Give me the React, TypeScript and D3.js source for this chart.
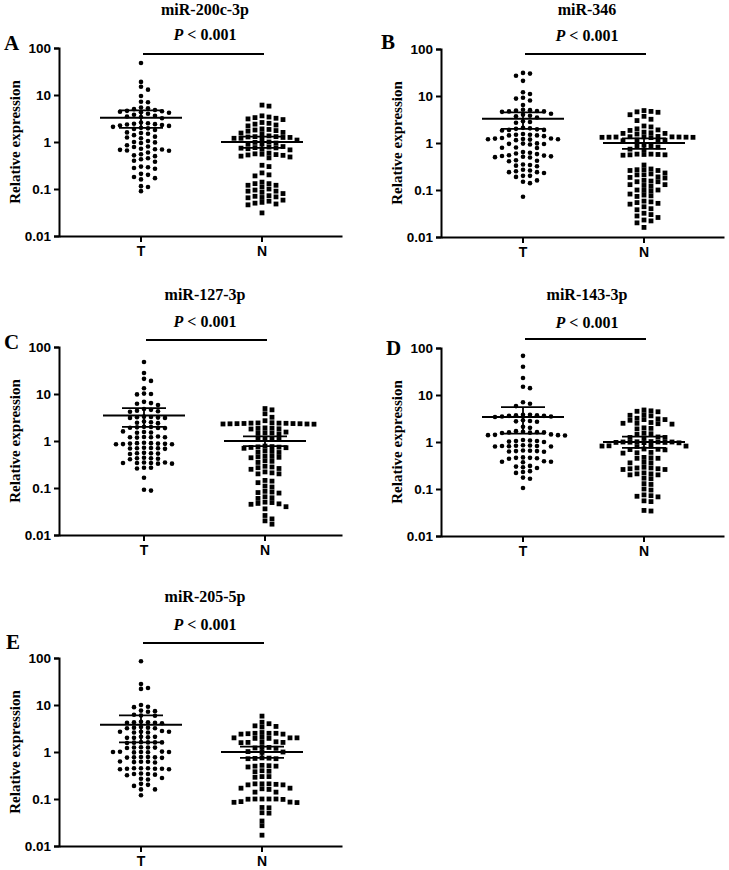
import React, { useEffect, useRef } from 'react';
import * as d3 from 'd3';

// panel labels and titles
const panelLetters = ["A", "B", "C", "D", "E"];
const mirNames = ["miR-200c-3p", "miR-346", "miR-127-3p", "miR-143-3p", "miR-205-5p"];
const groups = ["T", "N"];
const yTicks = [0.01, 0.1, 1, 10, 100];
const yTickLabels = ["0.01", "0.1", "1", "10", "100"];
const pLabel = "< 0.001";

// relative expression (T = tumour, N = normal)
const tumorA = [48, 19, 15, 13, 9.5, 7.2, 7.0, 5.4, 5.2, 5.0, 4.8, 4.6, 4.5, 4.4, 4.3, 4.2, 4.0, 3.8, 3.6, 3.5, 3.4, 3.2, 2.6, 2.5, 2.45, 2.4, 2.35, 2.3, 2.25, 2.2, 2.1, 2.0, 1.95, 1.9, 1.8, 1.6, 1.55, 1.5, 1.4, 1.3, 1.25, 1.2, 1.05, 1.0, 0.98, 0.95, 0.85, 0.8, 0.78, 0.72, 0.7, 0.69, 0.68, 0.66, 0.65, 0.6, 0.55, 0.52, 0.5, 0.45, 0.43, 0.4, 0.38, 0.3, 0.29, 0.28, 0.27, 0.21, 0.2, 0.18, 0.17, 0.16, 0.115, 0.11, 0.09];
const normalA = [6.1, 5.8, 3.6, 3.4, 3.3, 3.2, 3.1, 3.0, 2.6, 2.5, 2.4, 2.3, 2.2, 1.9, 1.85, 1.8, 1.75, 1.7, 1.6, 1.55, 1.5, 1.35, 1.3, 1.3, 1.28, 1.25, 1.25, 1.2, 1.2, 1.15, 1.1, 1.0, 0.98, 0.95, 0.92, 0.9, 0.8, 0.78, 0.76, 0.75, 0.74, 0.72, 0.7, 0.68, 0.58, 0.56, 0.55, 0.54, 0.53, 0.52, 0.5, 0.48, 0.46, 0.32, 0.3, 0.22, 0.2, 0.19, 0.14, 0.13, 0.13, 0.12, 0.12, 0.11, 0.1, 0.095, 0.09, 0.09, 0.085, 0.08, 0.072, 0.07, 0.068, 0.066, 0.065, 0.058, 0.055, 0.052, 0.05, 0.048, 0.046, 0.031];
const tumorB = [31, 30, 27, 21, 12, 11, 9.2, 8.8, 8, 6.4, 5.1, 5.0, 4.9, 4.8, 4.7, 4.7, 4.6, 4.2, 4.0, 3.8, 3.7, 3.5, 2.9, 2.8, 2.7, 2.1, 2.05, 2.0, 1.95, 1.9, 1.9, 1.85, 1.55, 1.5, 1.5, 1.45, 1.45, 1.4, 1.28, 1.25, 1.24, 1.22, 1.2, 1.2, 1.18, 1.15, 0.98, 0.97, 0.96, 0.95, 0.93, 0.8, 0.79, 0.78, 0.64, 0.62, 0.6, 0.58, 0.55, 0.54, 0.53, 0.52, 0.51, 0.5, 0.49, 0.43, 0.42, 0.41, 0.35, 0.34, 0.33, 0.32, 0.27, 0.26, 0.25, 0.24, 0.24, 0.23, 0.2, 0.2, 0.19, 0.16, 0.15, 0.14, 0.072];
const normalB = [4.9, 4.7, 4.6, 4.5, 4.0, 3.7, 3.2, 3.0, 2.3, 2.2, 2.0, 1.9, 1.85, 1.7, 1.65, 1.6, 1.6, 1.55, 1.38, 1.36, 1.35, 1.35, 1.34, 1.34, 1.33, 1.33, 1.32, 1.32, 1.3, 1.16, 1.15, 1.12, 1.1, 0.92, 0.88, 0.85, 0.82, 0.74, 0.72, 0.58, 0.58, 0.57, 0.57, 0.56, 0.56, 0.55, 0.34, 0.28, 0.27, 0.27, 0.26, 0.26, 0.23, 0.22, 0.21, 0.21, 0.19, 0.185, 0.18, 0.16, 0.155, 0.15, 0.15, 0.13, 0.13, 0.125, 0.12, 0.1, 0.1, 0.098, 0.095, 0.082, 0.078, 0.075, 0.073, 0.058, 0.056, 0.054, 0.052, 0.05, 0.044, 0.04, 0.038, 0.032, 0.03, 0.028, 0.026, 0.023, 0.022, 0.02, 0.016];
const tumorC = [48, 28, 21, 19, 13.3, 10.2, 10, 9.8, 6.8, 6.4, 6.2, 5.8, 4.8, 4.6, 4.4, 4.3, 4.2, 3.3, 3.25, 3.2, 3.15, 3.1, 3.1, 2.6, 2.5, 2.45, 2.4, 2.0, 1.98, 1.95, 1.92, 1.9, 1.88, 1.6, 1.55, 1.52, 1.5, 1.25, 1.22, 1.2, 1.2, 1.18, 1.2, 0.9, 0.88, 0.86, 0.92, 0.9, 0.88, 0.87, 0.85, 0.85, 0.7, 0.71, 0.72, 0.7, 0.68, 0.69, 0.56, 0.55, 0.54, 0.55, 0.53, 0.43, 0.44, 0.42, 0.43, 0.41, 0.35, 0.34, 0.34, 0.33, 0.35, 0.34, 0.33, 0.27, 0.27, 0.26, 0.165, 0.092, 0.088];
const normalC = [4.9, 4.6, 3.8, 3.2, 2.7, 2.45, 2.42, 2.4, 2.4, 2.38, 2.36, 2.35, 2.34, 2.33, 2.32, 2.3, 2.3, 2.28, 1.9, 1.88, 1.85, 1.82, 1.8, 1.55, 1.5, 1.48, 1.45, 1.42, 1.15, 1.12, 1.1, 1.08, 0.78, 0.76, 0.75, 0.74, 0.73, 0.72, 0.7, 0.62, 0.6, 0.58, 0.57, 0.48, 0.47, 0.46, 0.45, 0.44, 0.38, 0.37, 0.35, 0.29, 0.28, 0.27, 0.26, 0.25, 0.22, 0.21, 0.2, 0.2, 0.145, 0.14, 0.13, 0.11, 0.105, 0.085, 0.08, 0.082, 0.078, 0.065, 0.062, 0.06, 0.05, 0.049, 0.047, 0.046, 0.045, 0.04, 0.036, 0.026, 0.022, 0.02, 0.017];
const tumorD = [68, 40, 23, 15, 14, 7.0, 6.5, 5.8, 3.8, 3.7, 3.7, 3.6, 3.6, 3.5, 3.5, 3.4, 3.8, 2.9, 2.8, 2.75, 2.7, 2.1, 2.0, 1.7, 1.65, 1.6, 1.62, 1.58, 1.6, 1.55, 1.45, 1.42, 1.4, 1.4, 1.38, 1.08, 1.05, 1.05, 1.02, 1.0, 1.1, 0.84, 0.83, 0.82, 0.82, 0.8, 0.8, 0.81, 0.85, 0.65, 0.64, 0.63, 0.62, 0.66, 0.64, 0.47, 0.46, 0.46, 0.45, 0.44, 0.39, 0.38, 0.37, 0.38, 0.3, 0.31, 0.29, 0.28, 0.24, 0.23, 0.22, 0.175, 0.165, 0.105];
const normalD = [4.8, 4.6, 4.5, 4.4, 3.8, 3.7, 3.6, 3.1, 3.0, 3.0, 2.9, 3.2, 2.6, 2.5, 2.5, 2.45, 2.4, 2.0, 1.95, 1.9, 1.55, 1.5, 1.45, 1.28, 1.25, 1.25, 1.22, 1.02, 1.0, 1.0, 0.99, 0.98, 1.01, 0.98, 1.0, 0.97, 0.96, 0.83, 0.82, 0.81, 0.8, 0.82, 0.7, 0.71, 0.69, 0.68, 0.6, 0.59, 0.58, 0.47, 0.46, 0.45, 0.45, 0.37, 0.36, 0.36, 0.29, 0.28, 0.27, 0.28, 0.26, 0.27, 0.26, 0.21, 0.21, 0.2, 0.22, 0.2, 0.17, 0.165, 0.13, 0.125, 0.1, 0.095, 0.075, 0.072, 0.07, 0.068, 0.056, 0.054, 0.035, 0.034];
const tumorE = [85, 28, 23, 22, 10, 9.2, 9.0, 7.6, 7.4, 7.2, 6.2, 6.0, 5.9, 4.4, 4.3, 4.3, 4.2, 4.2, 4.1, 3.4, 3.3, 3.3, 3.2, 3.2, 2.8, 2.7, 2.7, 2.6, 2.7, 2.6, 2.1, 2.05, 2.1, 2.0, 2.0, 1.6, 1.6, 1.58, 1.62, 1.55, 1.6, 1.25, 1.24, 1.26, 1.22, 1.25, 1.0, 1.0, 0.99, 1.01, 0.98, 1.0, 1.02, 0.78, 0.77, 0.76, 0.78, 0.75, 0.77, 0.62, 0.61, 0.63, 0.6, 0.62, 0.45, 0.44, 0.45, 0.44, 0.43, 0.45, 0.44, 0.43, 0.34, 0.33, 0.35, 0.32, 0.34, 0.27, 0.28, 0.26, 0.2, 0.19, 0.21, 0.16, 0.16, 0.12];
const normalE = [5.8, 4.3, 4.0, 3.6, 3.5, 3.4, 2.6, 2.5, 2.5, 2.45, 2.4, 2.5, 2.4, 2.0, 2.0, 1.95, 2.05, 1.95, 2.0, 1.65, 1.6, 1.6, 1.58, 1.6, 1.25, 1.25, 1.22, 1.2, 1.0, 1.02, 0.98, 0.75, 0.74, 0.73, 0.72, 0.72, 0.52, 0.51, 0.5, 0.5, 0.48, 0.4, 0.39, 0.38, 0.3, 0.3, 0.29, 0.21, 0.21, 0.2, 0.21, 0.2, 0.205, 0.17, 0.165, 0.17, 0.16, 0.14, 0.14, 0.1, 0.1, 0.098, 0.1, 0.099, 0.1, 0.086, 0.085, 0.088, 0.084, 0.066, 0.065, 0.05, 0.051, 0.034, 0.027, 0.017];

// mean with error bars (lower / upper), per panel
const meanT = [3.3, 3.3, 3.5, 3.4, 3.8];
const lowT = [2.0, 2.0, 2.0, 1.5, 1.6];
const highT = [4.7, 4.5, 5.0, 5.5, 6.0];
const meanN = [1.0, 1.0, 1.0, 1.0, 1.0];
const lowN = [0.75, 0.75, 0.78, 0.75, 0.75];
const highN = [1.3, 1.25, 1.25, 1.3, 1.3];

const tumor = [tumorA, tumorB, tumorC, tumorD, tumorE];
const normal = [normalA, normalB, normalC, normalD, normalE];

// where each panel sits on the page
const layout = [
  { ax: 59, top: 48, titleY: 15, pY: 40, lineY: 54, letterX: 4, letterY: 50, shift: 0 },
  { ax: 441, top: 49, titleY: 15, pY: 41, lineY: 54, letterX: 381, letterY: 49, shift: 0 },
  { ax: 59, top: 347, titleY: 300, pY: 327, lineY: 340, letterX: 4, letterY: 349, shift: 3 },
  { ax: 441, top: 348, titleY: 300, pY: 328, lineY: 339, letterX: 386, letterY: 355, shift: 0 },
  { ax: 59, top: 658, titleY: 602, pY: 630, lineY: 643, letterX: 6, letterY: 649, shift: 0 },
];

const serif = '"Liberation Serif", "Times New Roman", serif';
const sans = '"Liberation Sans", Arial, sans-serif';

// spread points sideways so they don't overlap (rows like a Prism dot plot)
function swarm(vals: number[], y: (v: number) => number, cx: number) {
  const step = 3.5;
  const pts = vals.map(v => ({ v, y: y(v) })).sort((a, b) => a.y - b.y);
  const placed: { x: number; y: number }[] = [];
  pts.forEach(p => {
    for (let k = 0; k < 200; k++) {
      const off = k === 0 ? 0 : (k % 2 ? 1 : -1) * Math.ceil(k / 2) * step;
      const x = cx + off;
      const hit = placed.some(q => Math.abs(q.y - p.y) < 4.6 && Math.abs(q.x - x) < 6.8);
      if (!hit) { placed.push({ x, y: p.y }); break; }
    }
  });
  return placed;
}

const App = () => {
  const ref = useRef<SVGSVGElement>(null);

  useEffect(() => {
    const svg = d3.select(ref.current);
    svg.selectAll("*").remove();

    layout.forEach((L, i) => {
      const g = svg.append("g");
      const y = d3.scaleLog().domain([0.01, 100]).range([L.top + 188, L.top]);
      const x = d3.scalePoint().domain(groups).range([L.ax + 82 + L.shift, L.ax + 203 + L.shift]);
      const xEnd = L.ax + 283;
      const xT = x("T")!, xN = x("N")!;

      // y axis
      const yAxis = d3.axisLeft(y).tickValues(yTicks)
        .tickFormat((d, j) => yTickLabels[j]).tickSize(5).tickPadding(3);
      const ya = g.append("g").attr("transform", `translate(${L.ax},0)`).call(yAxis);
      ya.select(".domain").attr("stroke-width", 2);
      ya.selectAll(".tick line").attr("stroke-width", 2);
      ya.selectAll(".tick text").attr("font-family", sans).attr("font-weight", "bold")
        .attr("font-size", 13.5).attr("fill", "#000");

      // x axis
      const xs = d3.scaleLinear().domain([L.ax, xEnd]).range([L.ax, xEnd]);
      const xa = g.append("g").attr("transform", `translate(0,${L.top + 188})`)
        .call(d3.axisBottom(xs).tickValues([]).tickSizeOuter(0));
      xa.select(".domain").attr("stroke-width", 2);
      groups.forEach(gr => {
        const px = x(gr)!;
        g.append("line").attr("x1", px).attr("x2", px)
          .attr("y1", L.top + 188).attr("y2", L.top + 194).attr("stroke", "#000").attr("stroke-width", 2);
        g.append("text").attr("x", px).attr("y", L.top + 208).attr("text-anchor", "middle")
          .attr("font-family", sans).attr("font-weight", "bold").attr("font-size", 14).text(gr);
      });

      // y label
      g.append("text")
        .attr("transform", `translate(${L.ax - 39},${L.top + 94}) rotate(-90)`)
        .attr("text-anchor", "middle").attr("font-family", serif).attr("font-weight", "bold")
        .attr("font-size", 15).text("Relative expression");

      // titles
      const cx = L.ax + 146;
      g.append("text").attr("x", cx).attr("y", L.titleY).attr("text-anchor", "middle")
        .attr("font-family", serif).attr("font-weight", "bold").attr("font-size", 16).text(mirNames[i]);
      const pt = g.append("text").attr("x", cx).attr("y", L.pY).attr("text-anchor", "middle")
        .attr("font-family", serif).attr("font-weight", "bold").attr("font-size", 16);
      pt.append("tspan").attr("font-style", "italic").text("P");
      pt.append("tspan").text(" " + pLabel);
      g.append("line").attr("x1", xT + 2).attr("x2", xN + 2).attr("y1", L.lineY).attr("y2", L.lineY)
        .attr("stroke", "#000").attr("stroke-width", 2);
      g.append("text").attr("x", L.letterX).attr("y", L.letterY)
        .attr("font-family", serif).attr("font-weight", "bold").attr("font-size", 21).text(panelLetters[i]);

      // points
      swarm(tumor[i], y, xT).forEach(p => {
        g.append("circle").attr("cx", p.x).attr("cy", p.y).attr("r", 2.3).attr("fill", "#000");
      });
      swarm(normal[i], y, xN).forEach(p => {
        g.append("rect").attr("x", p.x - 2.4).attr("y", p.y - 2.4).attr("width", 4.8).attr("height", 4.8).attr("fill", "#000");
      });

      // mean and error bars
      const stats = [
        { c: xT, m: meanT[i], lo: lowT[i], hi: highT[i] },
        { c: xN, m: meanN[i], lo: lowN[i], hi: highN[i] },
      ];
      stats.forEach(s => {
        g.append("line").attr("x1", s.c - 41).attr("x2", s.c + 41).attr("y1", y(s.m)).attr("y2", y(s.m))
          .attr("stroke", "#000").attr("stroke-width", 2);
        g.append("line").attr("x1", s.c).attr("x2", s.c).attr("y1", y(s.lo)).attr("y2", y(s.hi))
          .attr("stroke", "#000").attr("stroke-width", 1.8);
        [s.lo, s.hi].forEach(v => {
          g.append("line").attr("x1", s.c - 22).attr("x2", s.c + 22).attr("y1", y(v)).attr("y2", y(v))
            .attr("stroke", "#000").attr("stroke-width", 1.8);
        });
      });
    });
  }, []);

  return (
    <svg ref={ref} width={729} height={870}
      style={{ position: "absolute", left: 0, top: 0, background: "#fff" }} />
  );
};

export default App;
